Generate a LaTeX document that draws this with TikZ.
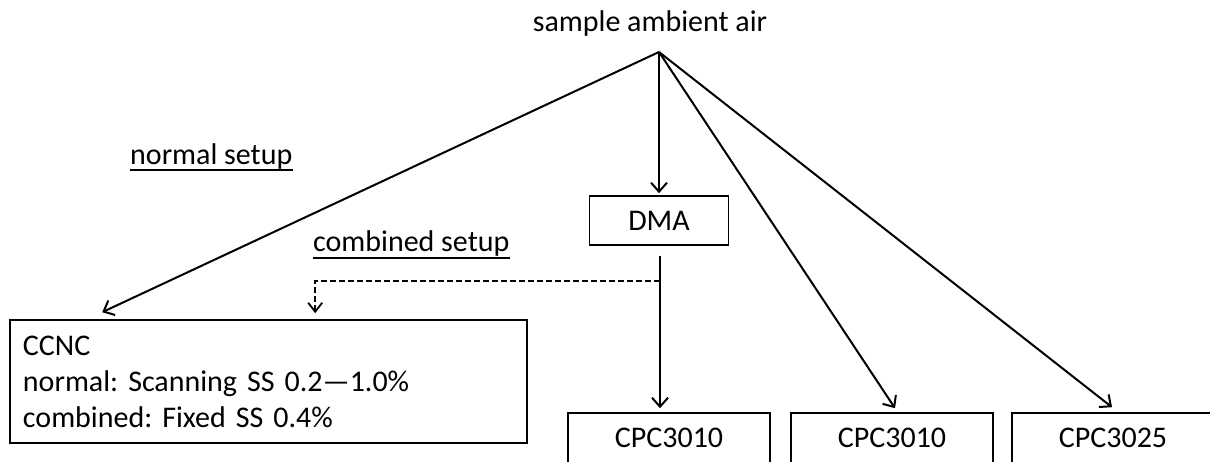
\documentclass[tikz,border=0pt]{standalone}
\usepackage{fontspec}
\setmainfont{Carlito}
\usetikzlibrary{arrows.meta,calc}
\begin{document}
\frenchspacing
\begin{tikzpicture}[x=1pt,y=-1pt,
  lbl/.style={font=\fontsize{30}{36}\selectfont, inner sep=0pt},
  boxnode/.style={draw, line width=1.6pt, font=\fontsize{30}{36}\selectfont, inner sep=0pt},
  arr/.style={line width=2pt, -{Straight Barb[length=9pt,width=16pt,line width=2pt]}},
  dasharr/.style={line width=1.8pt, dash pattern=on 6pt off 3pt, -{Straight Barb[length=9pt,width=14pt,line width=1.8pt]}},
  uline/.style={line width=1.6pt}]
\useasboundingbox (0,0) rectangle (1210,462);
\clip (0,0) rectangle (1210,462);
\node[lbl, anchor=base] (top) at (650,32) {sample ambient air};
\coordinate (apex) at (659,52);
\node[lbl, anchor=base west] (ns) at (130,165) {normal setup};
\draw[uline] ([yshift=-5pt]ns.base west) -- ([yshift=-5pt]ns.base east);
\node[lbl, anchor=base west] (cs) at (313,252) {combined setup};
\draw[uline] ([yshift=-6pt]cs.base west) -- ([yshift=-6pt]cs.base east);
\node[boxnode, minimum width=139pt, minimum height=49pt] (dma) at (659,220.5) {DMA};
\node[boxnode, minimum width=517pt, minimum height=123pt, text width=491pt, align=left, inner xsep=13pt] (ccnc) at (268.5,381.5)
  {CCNC\\normal: Scanning SS 0.2—1.0\%\\combined: Fixed SS 0.4\%};
\node[boxnode, minimum width=202pt, minimum height=50pt] (cpc1) at (669,438) {CPC3010};
\node[boxnode, minimum width=202pt, minimum height=50pt] (cpc2) at (892,438) {CPC3010};
\node[boxnode, minimum width=202pt, minimum height=50pt] (cpc3) at (1113,438) {CPC3025};
\coordinate (dmaout) at (660,256);
\coordinate (junc) at (660,281);
\coordinate (ccnctipA) at ([xshift=93pt,yshift=7pt]ccnc.north west);
\coordinate (ccnctipB) at ([xshift=306pt,yshift=6pt]ccnc.north west);
\draw[arr] (apex) -- ([yshift=2pt]dma.north);
\draw[arr] (apex) -- (ccnctipA);
\draw[arr] (apex) -- ([xshift=3pt,yshift=4pt]cpc2.north);
\draw[arr] (apex) -- ([xshift=-1pt,yshift=5pt]cpc3.north);
\draw[arr] (dmaout) -- ([yshift=4pt]cpc1.north -| dmaout);
\draw[dasharr] (junc) -| (ccnctipB);
\end{tikzpicture}
\end{document}
